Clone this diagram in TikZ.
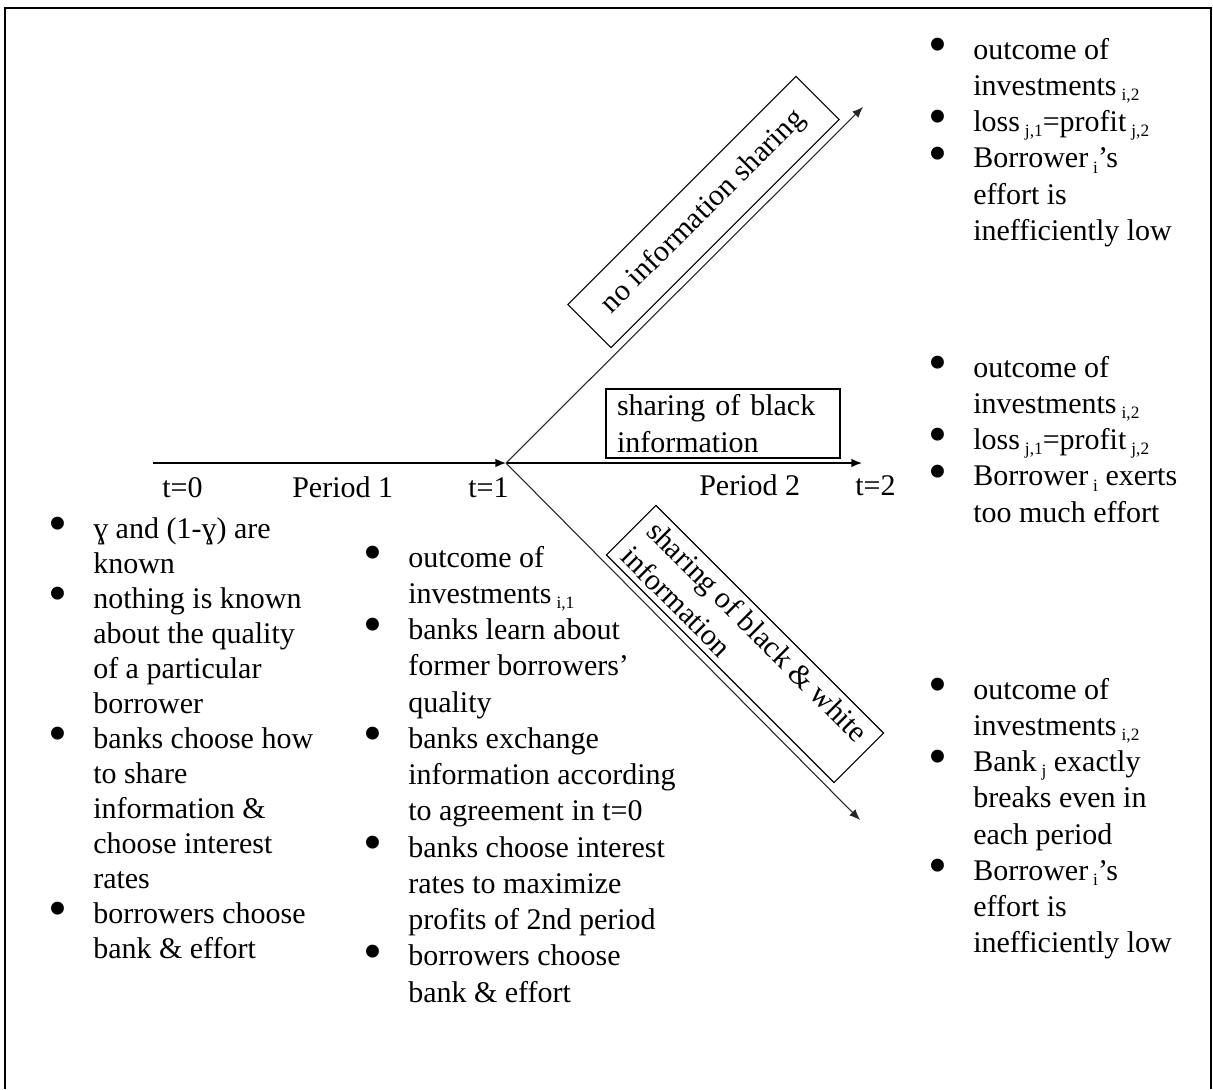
\documentclass[tikz,border=0pt]{standalone}
\usepackage{fontspec}
\setmainfont{Liberation Serif}
\usetikzlibrary{arrows.meta}
\newcommand\sbs[1]{\,\raisebox{-4pt}{\fontsize{13}{13}\selectfont #1}}
\newcommand\bul{\raisebox{-2.5pt}{\scalebox{1.8}{•}}}
\tikzset{
  txt/.style={font=\fontsize{22.5}{27.2}\selectfont, inner sep=0pt},
  lst/.style={txt, anchor=base west},
  hline/.style={line width=1.2pt, -{Latex[length=8pt,width=6.5pt]}},
  dline/.style={line width=0.8pt, black!85, -{Latex[length=8pt,width=6.5pt]}},
  frame/.style={draw, line width=0.8pt},
}
\begin{document}
\begin{tikzpicture}[x=0.75pt,y=-0.75pt]
\useasboundingbox (0,0) rectangle (1213,1089);
\draw[line width=1.5pt] (5,1089) -- (5,8) -- (1211,8) -- (1211,1089);

% timeline
\coordinate (s) at (153,463);
\coordinate (f) at (506,463);
\coordinate (eu) at (863,107);
\coordinate (em) at (862,463);
\coordinate (el) at (860,820);
\draw[hline] (s) -- (f);
\draw[hline] (f) -- (em);
\draw[dline] (f) -- (eu);
\draw[dline] (f) -- (el);

\node[lst] (t0) at (162,497) {t=0};
\node[lst] (p1) at (292,497) {Period 1};
\node[lst] (t1) at (468,497) {t=1};
\node[lst] (p2) at (699,495) {Period 2};
\node[lst] (t2) at (855,495) {t=2};

% branch boxes
\node[txt, frame, rotate=45, minimum width=242pt, minimum height=45.75pt] (nobox) at (703.5,212) {no information sharing};
\node[txt, frame, minimum width=175.5pt, minimum height=51.75pt, text width=159pt, inner xsep=8.25pt, align=left] (blackbox) at (723,423.5) {sharing of black\\information};
\node[txt, frame, rotate=-45, minimum width=241.5pt, minimum height=52.5pt, align=left] (bwbox) at (745,644) {sharing of black \& white\\information};

% t=0 list
\node[lst, font=\fontsize{22.5}{26.25}\selectfont] (l0) at (48,538) {%
\begin{tabular}[t]{@{}p{33.75pt}@{}l@{}}
\bul & ɣ and (1-ɣ) are\\
  & known\\
\bul & nothing is known\\
  & about the quality\\
  & of a particular\\
  & borrower\\
\bul & banks choose how\\
  & to share\\
  & information \&\\
  & choose interest\\
  & rates\\
\bul & borrowers choose\\
  & bank \& effort
\end{tabular}};

% t=1 list
\node[lst] (l1) at (363,567) {%
\begin{tabular}[t]{@{}p{33.75pt}@{}l@{}}
\bul & outcome of\\
  & investments\sbs{i,1}\\
\bul & banks learn about\\
  & former borrowers’\\
  & quality\\
\bul & banks exchange\\
  & information according\\
  & to agreement in t=0\\
\bul & banks choose interest\\
  & rates to maximize\\
  & profits of 2nd period\\
\bul & borrowers choose\\
  & bank \& effort
\end{tabular}};

% outcomes
\node[lst] (r1) at (928,59) {%
\begin{tabular}[t]{@{}p{33.75pt}@{}l@{}}
\bul & outcome of\\
  & investments\sbs{i,2}\\
\bul & loss\sbs{j,1}=profit\sbs{j,2}\\
\bul & Borrower\sbs{i}’s\\
  & effort is\\
  & inefficiently low
\end{tabular}};

\node[lst] (r2) at (928,377) {%
\begin{tabular}[t]{@{}p{33.75pt}@{}l@{}}
\bul & outcome of\\
  & investments\sbs{i,2}\\
\bul & loss\sbs{j,1}=profit\sbs{j,2}\\
\bul & Borrower\sbs{i} exerts\\
  & too much effort
\end{tabular}};

\node[lst] (r3) at (928,699) {%
\begin{tabular}[t]{@{}p{33.75pt}@{}l@{}}
\bul & outcome of\\
  & investments\sbs{i,2}\\
\bul & Bank\sbs{j} exactly\\
  & breaks even in\\
  & each period\\
\bul & Borrower\sbs{i}’s\\
  & effort is\\
  & inefficiently low
\end{tabular}};
\end{tikzpicture}
\end{document}
